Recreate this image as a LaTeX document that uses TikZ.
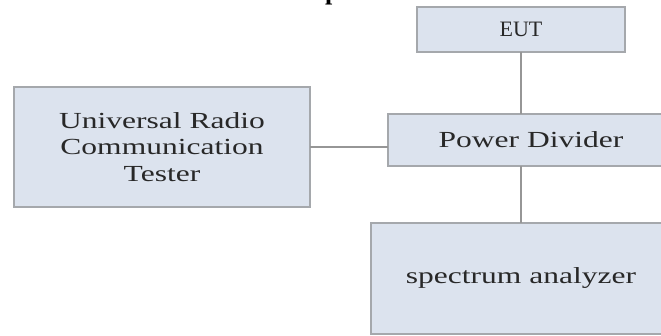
\documentclass[tikz,border=0pt]{standalone}
\usepackage{fontspec}
\setmainfont{Liberation Serif}
\newfontfamily\widefont[FakeStretch=1.37]{Liberation Serif}
\definecolor{boxfill}{RGB}{220,227,238}
\definecolor{boxline}{RGB}{165,168,172}
\definecolor{connline}{RGB}{150,150,150}
\definecolor{txt}{RGB}{40,40,40}
\begin{document}
\begin{tikzpicture}[x=1pt,y=-1pt,
  box/.style={draw=boxline, fill=boxfill, line width=1.3pt, inner sep=0pt, outer sep=0pt, text=txt, align=center},
  widetext/.style={font=\widefont\fontsize{23}{26.5}\selectfont},
  conn/.style={draw=connline, line width=1.2pt}]
\useasboundingbox (0,0) rectangle (661,336);
\clip (0,0) rectangle (661,336);
\node[anchor=base west, inner sep=0pt, text=black, font=\bfseries\fontsize{26}{30}\selectfont] (ttl) at (325,-0.6) {p};
\node[box, widetext, minimum width=296pt, minimum height=120pt] (urct) at (162,147) {Universal Radio\\Communication\\Tester};
\node[box, font=\fontsize{22}{26}\selectfont, minimum width=208pt, minimum height=45pt] (eut) at (521,29.5) {EUT};
\node[box, widetext, minimum width=286pt, minimum height=52pt] (pd) at (531,140) {Power Divider};
\node[box, widetext, minimum width=300pt, minimum height=111pt] (sa) at (521,278.5) {spectrum analyzer};
\draw[conn] (eut.south) -- (eut.south |- pd.north);
\draw[conn] (sa.north |- pd.south) -- (sa.north);
\draw[conn] (urct.east) -- (urct.east -| pd.west);
\end{tikzpicture}
\end{document}
